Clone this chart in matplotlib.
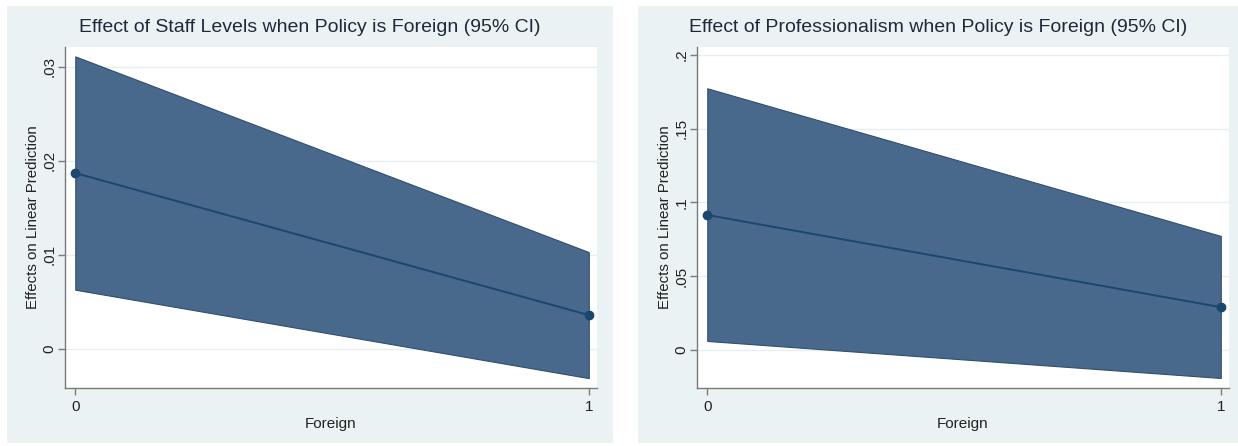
import matplotlib.pyplot as plt

plt.rcParams['font.family'] = ['Liberation Sans', 'DejaVu Sans']

# marginal effects at Foreign = 0 and Foreign = 1
foreign = [0, 1]

staff_effect = [0.0187, 0.0036]
staff_lower = [0.0063, -0.0031]
staff_upper = [0.0311, 0.0103]
staff_ticks = [0, 0.01, 0.02, 0.03]
staff_ticklabels = ['0', '.01', '.02', '.03']

prof_effect = [0.0915, 0.0290]
prof_lower = [0.0061, -0.0190]
prof_upper = [0.1774, 0.0773]
prof_ticks = [0, 0.05, 0.1, 0.15, 0.2]
prof_ticklabels = ['0', '.05', '.1', '.15', '.2']

titles = ['Effect of Staff Levels when Policy is Foreign (95% CI)',
          'Effect of Professionalism when Policy is Foreign (95% CI)']

W, H = 1238, 446
bg = '#eaf2f3'
band = '#48698b'
navy = '#1a476f'


def px_rect(x0, y0, x1, y1):
    # pixel box (top-left origin) -> figure fraction [left, bottom, width, height]
    return [x0 / W, 1 - y1 / H, (x1 - x0) / W, (y1 - y0) / H]


def draw_panel(fig, panel_box, ax_box, title, effect, lower, upper, ticks, ticklabels, ylim):
    back = fig.add_axes(panel_box, zorder=0)
    back.set_facecolor(bg)
    back.set_xticks([])
    back.set_yticks([])
    for s in back.spines.values():
        s.set_visible(False)

    ax = fig.add_axes(ax_box, zorder=1)
    ax.set_facecolor('white')
    ax.fill_between(foreign, lower, upper, color=band, lw=0.8, edgecolor='#2f4f6f', zorder=2)
    ax.plot(foreign, effect, color=navy, lw=1.4, marker='o', ms=6, zorder=3, clip_on=False)
    ax.set_xlim(-0.02, 1.016)
    ax.set_ylim(*ylim)
    ax.set_xticks(foreign)
    ax.set_xticklabels(['0', '1'], fontsize=11)
    ax.set_yticks(ticks)
    ax.set_yticklabels(ticklabels, fontsize=11, rotation=90, va='center')
    ax.grid(axis='y', color='#e6eef0', lw=1.0, zorder=1)
    ax.set_axisbelow(True)
    for side in ['top', 'right']:
        ax.spines[side].set_visible(False)
    for side in ['left', 'bottom']:
        ax.spines[side].set_color('#7a7a7a')
        ax.spines[side].set_linewidth(1.0)
    ax.tick_params(colors='#7a7a7a', labelcolor='#222222', length=5, width=1)
    ax.tick_params(axis='y', pad=1)
    ax.set_xlabel('Foreign', fontsize=11, color='#222222', labelpad=2)
    ax.set_ylabel('Effects on Linear Prediction', fontsize=10.8, color='#222222', labelpad=2)
    cx = panel_box[0] + panel_box[2] / 2
    fig.text(cx, 1 - 28 / H, title, ha='center', va='center', fontsize=14, color='#1e2a3a',
             zorder=3)
    return ax


fig = plt.figure(figsize=(W / 100, H / 100), dpi=100)

draw_panel(fig, px_rect(7, 6, 613, 443), px_rect(65, 47, 597, 388),
           titles[0], staff_effect, staff_lower, staff_upper,
           staff_ticks, staff_ticklabels, (-0.00415, 0.0321))

draw_panel(fig, px_rect(638, 6, 1238, 443), px_rect(697, 47, 1229, 388),
           titles[1], prof_effect, prof_lower, prof_upper,
           prof_ticks, prof_ticklabels, (-0.0258, 0.2054))

fig.savefig('out.png', dpi=100)
